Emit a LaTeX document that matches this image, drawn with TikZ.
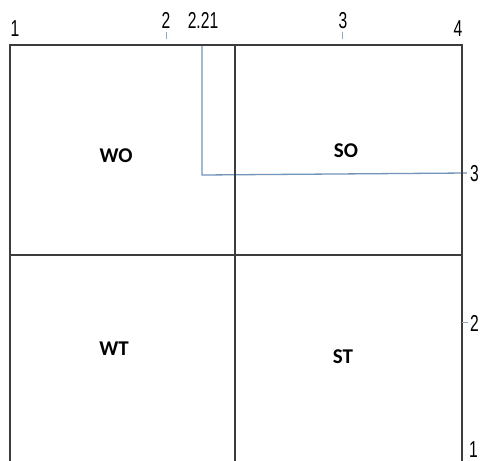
\documentclass[tikz,border=0pt]{standalone}
\usepackage{fontspec}
\setmainfont{Liberation Sans}
\newfontfamily\boxfont{Carlito}
\definecolor{steel}{RGB}{115,148,185}
\definecolor{framegray}{RGB}{60,60,60}
\begin{document}
\begin{tikzpicture}[x=1pt,y=-1pt,
  frame/.style={draw=framegray,line width=1.3pt},
  blueline/.style={draw=steel,line width=1.3pt},
  tickline/.style={draw=steel!80,line width=1pt},
  axlab/.style={inner sep=0pt,font=\fontsize{23}{23}\selectfont},
  quad/.style={inner sep=0pt,font=\boxfont\bfseries\fontsize{21}{21}\selectfont}]
\useasboundingbox[fill=white] (0,0) rectangle (480,461);
% coordinates
\coordinate (TL) at (10,45);
\coordinate (TR) at (462,45);
\coordinate (BL) at (10,461);
\coordinate (BR) at (462,461);
\coordinate (TM) at (235,45);
\coordinate (BM) at (235,461);
\coordinate (ML) at (10,255);
\coordinate (MR) at (462,255);
\coordinate (bTop) at (202,45);
\coordinate (bCorner) at (202,175);
\coordinate (bEnd) at (467,173);
% blue line
\draw[blueline] (bTop) -- (bCorner) -- (bEnd);
% frame
\draw[frame] (BL) -- (TL) -- (TR) -- (BR);
\draw[frame] (TM) -- (BM);
\draw[frame] (ML) -- (MR);
% ticks
\coordinate (t2a) at (166,32); \coordinate (t2b) at (166,39);
\coordinate (t3a) at (342,32); \coordinate (t3b) at (342,39);
\coordinate (r2a) at (462,322); \coordinate (r2b) at (468,322);
\draw[tickline] (t2a) -- (t2b);
\draw[tickline] (t3a) -- (t3b);
\draw[tickline] (r2a) -- (r2b);
% top labels
\node[axlab,anchor=south] (l1) at (15,37) {\scalebox{0.68}[1]{1}};
\node[axlab,anchor=south] (l2) at (166,29) {\scalebox{0.68}[1]{2}};
\node[axlab,anchor=south] (l221) at (203,29) {\scalebox{0.68}[1]{2.21}};
\node[axlab,anchor=south] (l3) at (343,29) {\scalebox{0.68}[1]{3}};
\node[axlab,anchor=south] (l4) at (458,37) {\scalebox{0.68}[1]{4}};
% right labels
\node[axlab,anchor=west] (r3) at (470,174) {\scalebox{0.68}[1]{3}};
\node[axlab,anchor=west] (r2) at (470,323) {\scalebox{0.68}[1]{2}};
\node[axlab,anchor=base west] (r1) at (469,457) {\scalebox{0.68}[1]{1}};
% quadrant labels
\node[quad] (WO) at (116,156) {WO};
\node[quad] (SO) at (346,151) {SO};
\node[quad] (WT) at (114,349) {WT};
\node[quad] (ST) at (343,357) {ST};
\end{tikzpicture}
\end{document}
